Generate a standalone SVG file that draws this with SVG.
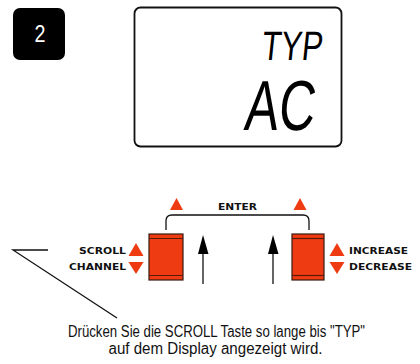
<svg xmlns="http://www.w3.org/2000/svg" width="420" height="364" viewBox="0 0 420 364">
<style>
.btn{fill:#ef3b12;stroke:#3a1a10;stroke-width:1.2}
.band{stroke:#5a1a0a;stroke-width:1.2}
.tri{fill:#ef3b12}
.lbl{font-family:"DejaVu Sans","Liberation Sans",sans-serif;font-weight:bold;font-size:9.5px;fill:#111}
.ln{stroke:#111;stroke-width:1.3;fill:none}
.cap{font-family:"Liberation Sans",Arial,sans-serif;font-size:16px;fill:#111}
.lcd{font-family:"Liberation Sans",Arial,sans-serif;fill:#000}
</style>
<rect width="420" height="364" fill="#fff"/>
<g id="badge">
<rect x="13" y="8" width="52" height="52" rx="7" fill="#000"/>
<text x="40" y="42" text-anchor="middle" font-family="Liberation Sans, Arial, sans-serif" font-size="23" fill="#fff" textLength="11" lengthAdjust="spacingAndGlyphs">2</text>
</g>
<g id="display">
<rect x="134.5" y="7.5" width="207" height="139" rx="6" fill="#fff" stroke="#111" stroke-width="1.8"/>
<text class="lcd" x="261" y="60" font-size="41" textLength="61" lengthAdjust="spacingAndGlyphs" transform="skewX(-6) translate(6,0)">TYP</text>
<text class="lcd" x="244" y="130" font-size="71" textLength="70" lengthAdjust="spacingAndGlyphs" transform="skewX(-6) translate(13,0)">AC</text>
</g>
<g id="scroll-button">
<rect class="btn" x="149" y="234" width="34" height="46"/>
<line class="band" x1="149" y1="238.5" x2="183" y2="238.5"/>
<line class="band" x1="149" y1="275.5" x2="183" y2="275.5"/>
<polygon class="tri" points="176.5,198 170,210 183,210"/>
<polygon class="tri" points="136,243 128.5,256 143.5,256"/>
<polygon class="tri" points="128.5,262 143.5,262 136,274"/>
<text class="lbl" x="126" y="254" text-anchor="end" textLength="47" lengthAdjust="spacingAndGlyphs">SCROLL</text>
<text class="lbl" x="126" y="270" text-anchor="end" textLength="57" lengthAdjust="spacingAndGlyphs">CHANNEL</text>
</g>
<g id="increase-button">
<rect class="btn" x="292" y="234" width="32" height="46"/>
<line class="band" x1="292" y1="238.5" x2="324" y2="238.5"/>
<line class="band" x1="292" y1="275.5" x2="324" y2="275.5"/>
<polygon class="tri" points="300,198 293.5,210 306.5,210"/>
<polygon class="tri" points="337,243 329.5,256 344.5,256"/>
<polygon class="tri" points="329.5,262 344.5,262 337,274"/>
<text class="lbl" x="349" y="254" textLength="59" lengthAdjust="spacingAndGlyphs">INCREASE</text>
<text class="lbl" x="349" y="270" textLength="63" lengthAdjust="spacingAndGlyphs">DECREASE</text>
</g>
<g id="enter">
<text class="lbl" x="237.5" y="210" text-anchor="middle" font-size="9" textLength="39" lengthAdjust="spacingAndGlyphs">ENTER</text>
</g>
<g id="connectors">
<path class="ln" d="M166,230 V221 Q166,215 172,215 H303 Q309,215 309,221 V230"/>
<line class="ln" x1="203" y1="252" x2="203" y2="284" stroke-width="1.5"/>
<polygon points="203,235 198,254 208.5,254" fill="#000"/>
<line class="ln" x1="273" y1="252" x2="273" y2="284" stroke-width="1.5"/>
<polygon points="273,235 268,254 278.5,254" fill="#000"/>
<polyline class="ln" points="48,250 13,250 117,318"/>
</g>
<g id="caption">
<text class="cap" x="216.5" y="337" text-anchor="middle" textLength="297" lengthAdjust="spacingAndGlyphs">Drücken Sie die SCROLL Taste so lange bis "TYP"</text>
<text class="cap" x="215.5" y="354" text-anchor="middle" textLength="214" lengthAdjust="spacingAndGlyphs">auf dem Display angezeigt wird.</text>
</g>
</svg>
